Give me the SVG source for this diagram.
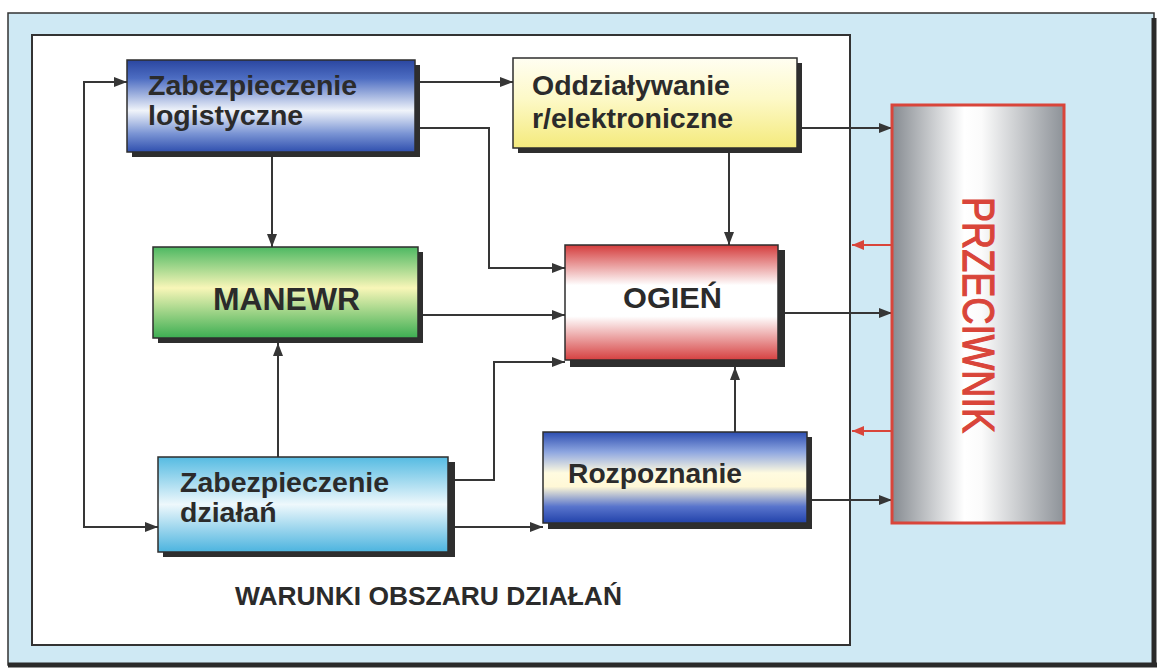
<svg xmlns="http://www.w3.org/2000/svg" width="1162" height="671" viewBox="0 0 1162 671">
<style>
.lbl{font-family:"Liberation Sans",Arial,sans-serif;font-weight:bold;fill:#2b2b2b}
.box{stroke:#2e2e2e;stroke-width:1.5}
.shadow{fill:#2e2e2e}
.con{fill:none;stroke:#363636;stroke-width:2}
.red{fill:none;stroke:#d9453a;stroke-width:2}
</style>
<defs>
<marker id="ah" viewBox="0 0 13 10" refX="13" refY="5" markerWidth="13" markerHeight="10" markerUnits="userSpaceOnUse" orient="auto"><path d="M0,0 L13,5 L0,10 z" fill="#363636"/></marker>
<marker id="ahr" viewBox="0 0 12 10" refX="12" refY="5" markerWidth="12" markerHeight="10" markerUnits="userSpaceOnUse" orient="auto"><path d="M0,0 L12,5 L0,10 z" fill="#d9453a"/></marker>
<linearGradient id="gBlue" x1="0" y1="0" x2="0" y2="1">
<stop offset="0" stop-color="#2a46a0"/><stop offset="0.2" stop-color="#4d6dc2"/><stop offset="0.55" stop-color="#f0f4fa"/><stop offset="0.8" stop-color="#7a94d4"/><stop offset="1" stop-color="#2f4fae"/>
</linearGradient>
<linearGradient id="gYellow" x1="0" y1="0" x2="0" y2="1">
<stop offset="0" stop-color="#fffef2"/><stop offset="0.45" stop-color="#fdf9c8"/><stop offset="1" stop-color="#f4ea7c"/>
</linearGradient>
<linearGradient id="gGreen" x1="0" y1="0" x2="0" y2="1">
<stop offset="0" stop-color="#4db862"/><stop offset="0.45" stop-color="#f8f6b8"/><stop offset="1" stop-color="#3cae52"/>
</linearGradient>
<linearGradient id="gRed" x1="0" y1="0" x2="0" y2="1">
<stop offset="0" stop-color="#d43c3c"/><stop offset="0.35" stop-color="#ffffff"/><stop offset="0.62" stop-color="#ffffff"/><stop offset="1" stop-color="#d64040"/>
</linearGradient>
<linearGradient id="gCyan" x1="0" y1="0" x2="0" y2="1">
<stop offset="0" stop-color="#55bbe2"/><stop offset="0.5" stop-color="#eef8fc"/><stop offset="1" stop-color="#4cb4df"/>
</linearGradient>
<linearGradient id="gRozp" x1="0" y1="0" x2="0" y2="1">
<stop offset="0" stop-color="#2c4db0"/><stop offset="0.22" stop-color="#8ea6e0"/><stop offset="0.45" stop-color="#fffbe0"/><stop offset="0.6" stop-color="#fff8d6"/><stop offset="0.82" stop-color="#5874cc"/><stop offset="1" stop-color="#2242aa"/>
</linearGradient>
<linearGradient id="gGray" x1="0" y1="0" x2="1" y2="0">
<stop offset="0" stop-color="#868b91"/><stop offset="0.42" stop-color="#ffffff"/><stop offset="0.52" stop-color="#fbfbfb"/><stop offset="1" stop-color="#8d9298"/>
</linearGradient>
</defs>

<g id="frame">
<rect x="8" y="13" width="1146" height="652" fill="#cfe9f4" stroke="#333" stroke-width="1.5"/>
<line x1="1154" y1="18" x2="1154" y2="667" stroke="#2a2a2a" stroke-width="5"/>
<line x1="8" y1="665" x2="1157" y2="665" stroke="#2a2a2a" stroke-width="5"/>
<rect x="32" y="35" width="818" height="610" fill="#ffffff" stroke="#333" stroke-width="2"/>
<text class="lbl" x="235" y="605" font-size="25.5" textLength="387" lengthAdjust="spacingAndGlyphs">WARUNKI OBSZARU DZIAŁAŃ</text>
</g>

<g id="connectors">
<path class="con" d="M420,82 H513" marker-end="url(#ah)"/>
<path class="con" d="M420,128 H489 V268 H565" marker-end="url(#ah)"/>
<path class="con" d="M272,157 V247" marker-end="url(#ah)"/>
<path class="con" d="M729,153 V245" marker-end="url(#ah)"/>
<path class="con" d="M802,128 H892" marker-end="url(#ah)"/>
<path class="con" d="M423,315 H565" marker-end="url(#ah)"/>
<path class="con" d="M785,313 H892" marker-end="url(#ah)"/>
<path class="con" d="M453,480 H494 V362 H565" marker-end="url(#ah)"/>
<path class="con" d="M278,457 V343" marker-end="url(#ah)"/>
<path class="con" d="M735,432 V367" marker-end="url(#ah)"/>
<path class="con" d="M455,527 H543" marker-end="url(#ah)"/>
<path class="con" d="M812,500 H892" marker-end="url(#ah)"/>
<path class="con" d="M84,300 V82 H127" marker-end="url(#ah)"/>
<path class="con" d="M84,300 V527 H158" marker-end="url(#ah)"/>
<path class="red" d="M892,245 H852" marker-end="url(#ahr)"/>
<path class="red" d="M892,431 H852" marker-end="url(#ahr)"/>
</g>

<g id="zab-logistyczne">
<rect class="shadow" x="132" y="65" width="288" height="92"/>
<rect class="box" x="127" y="60" width="288" height="92" fill="url(#gBlue)"/>
<text class="lbl" x="148" y="95" font-size="28.5">Zabezpieczenie</text>
<text class="lbl" x="148" y="125" font-size="28.5">logistyczne</text>
</g>

<g id="oddzialywanie">
<rect class="shadow" x="518" y="63" width="284" height="90"/>
<rect class="box" x="513" y="58" width="284" height="90" fill="url(#gYellow)"/>
<text class="lbl" x="532" y="95" font-size="28.5">Oddziaływanie</text>
<text class="lbl" x="532" y="128" font-size="28.5">r/elektroniczne</text>
</g>

<g id="manewr">
<rect class="shadow" x="158" y="252" width="265" height="91"/>
<rect class="box" x="153" y="247" width="265" height="91" fill="url(#gGreen)"/>
<text class="lbl" x="213" y="310" font-size="31" textLength="147" lengthAdjust="spacingAndGlyphs">MANEWR</text>
</g>

<g id="ogien">
<rect class="shadow" x="570" y="250" width="215" height="117"/>
<rect class="box" x="565" y="245" width="213" height="115" fill="url(#gRed)"/>
<text class="lbl" x="623" y="308" font-size="30" textLength="99" lengthAdjust="spacingAndGlyphs">OGIEŃ</text>
</g>

<g id="zab-dzialan">
<rect class="shadow" x="163" y="462" width="292" height="95"/>
<rect class="box" x="158" y="457" width="290" height="95" fill="url(#gCyan)"/>
<text class="lbl" x="180" y="492" font-size="28.5">Zabezpieczenie</text>
<text class="lbl" x="180" y="522" font-size="28.5">działań</text>
</g>

<g id="rozpoznanie">
<rect class="shadow" x="548" y="437" width="264" height="92"/>
<rect class="box" x="543" y="432" width="264" height="91" fill="url(#gRozp)"/>
<text class="lbl" x="568" y="483" font-size="28.5" textLength="174" lengthAdjust="spacingAndGlyphs">Rozpoznanie</text>
</g>

<g id="przeciwnik">
<rect x="892" y="105" width="172" height="418" fill="url(#gGray)" stroke="#d9453a" stroke-width="3"/>
<text transform="translate(963,197) rotate(90)" x="0" y="0" font-family="Liberation Sans, Arial, sans-serif" font-size="45" fill="#d9453a" stroke="#d9453a" stroke-width="1.2" textLength="236" lengthAdjust="spacingAndGlyphs">PRZECIWNIK</text>
</g>
</svg>
